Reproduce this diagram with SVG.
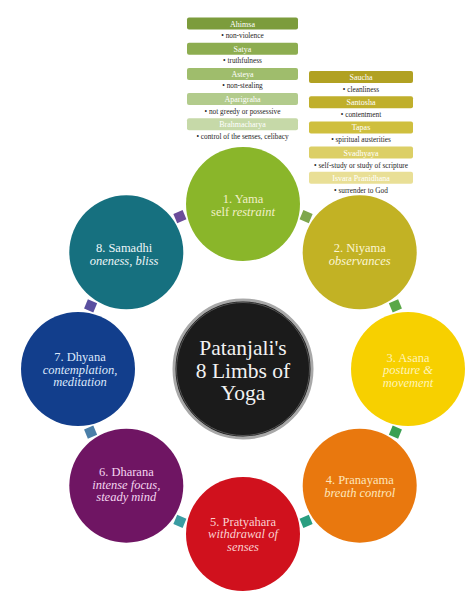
<svg xmlns="http://www.w3.org/2000/svg" width="474" height="597" viewBox="0 0 474 597">
<style>
.bar{stroke:none}
.bl{font-family:"Liberation Serif",serif;font-size:8px;fill:#ffffff;text-anchor:middle}
.bt{font-family:"Liberation Serif",serif;font-size:7.3px;fill:#1e1e1e;text-anchor:middle}
.ct{font-family:"Liberation Serif",serif;font-size:12.5px;text-anchor:middle}
.it{font-style:italic}
.mid{font-family:"Liberation Serif",serif;font-size:21.5px;fill:#f2f2f2;text-anchor:middle}
.sq{stroke:none}
</style>
<rect width="474" height="597" fill="#ffffff"/>

<g id="yama-list">
<rect class="bar" x="187" y="17.5" width="111" height="12" rx="2" fill="#7c9c3c"/>
<text class="bl" x="242.5" y="26.5">Ahimsa</text>
<text class="bt" x="242.5" y="38">• non-violence</text>
<rect class="bar" x="187" y="42.7" width="111" height="12" rx="2" fill="#8dad50"/>
<text class="bl" x="242.5" y="51.7">Satya</text>
<text class="bt" x="242.5" y="63.2">• truthfulness</text>
<rect class="bar" x="187" y="67.9" width="111" height="12" rx="2" fill="#9fbd6c"/>
<text class="bl" x="242.5" y="76.9">Asteya</text>
<text class="bt" x="242.5" y="88.4">• non-stealing</text>
<rect class="bar" x="187" y="93.1" width="111" height="12" rx="2" fill="#b2cb8c"/>
<text class="bl" x="242.5" y="102.1">Aparigraha</text>
<text class="bt" x="242.5" y="113.6">• not greedy or possessive</text>
<rect class="bar" x="187" y="118.3" width="111" height="12" rx="2" fill="#c6d9a8"/>
<text class="bl" x="242.5" y="127.3">Brahmacharya</text>
<text class="bt" x="242.5" y="138.8">• control of the senses, celibacy</text>
</g>

<g id="niyama-list">
<rect class="bar" x="309" y="71" width="104" height="12" rx="2" fill="#b1a122"/>
<text class="bl" x="361" y="80">Saucha</text>
<text class="bt" x="361" y="92">• cleanliness</text>
<rect class="bar" x="309" y="96.2" width="104" height="12" rx="2" fill="#c0af2c"/>
<text class="bl" x="361" y="105.2">Santosha</text>
<text class="bt" x="361" y="117.2">• contentment</text>
<rect class="bar" x="309" y="121.4" width="104" height="12" rx="2" fill="#cfbf3e"/>
<text class="bl" x="361" y="130.4">Tapas</text>
<text class="bt" x="361" y="142.4">• spiritual austerities</text>
<rect class="bar" x="309" y="146.6" width="104" height="12" rx="2" fill="#dccf66"/>
<text class="bl" x="361" y="155.6">Svadhyaya</text>
<text class="bt" x="361" y="167.6">• self-study or study of scripture</text>
<rect class="bar" x="309" y="171.8" width="104" height="12" rx="2" fill="#e9df96"/>
<text class="bl" x="361" y="180.8">Isvara Pranidhana</text>
<text class="bt" x="361" y="192.8">• surrender to God</text>
</g>

<g id="connectors">
<rect class="sq" x="-5" y="-5" width="10" height="10" fill="#7ea64c" transform="translate(306.1,216.6) rotate(22.5)"/>
<rect class="sq" x="-5" y="-5" width="10" height="10" fill="#5aa848" transform="translate(395.4,305.9) rotate(67.5)"/>
<rect class="sq" x="-5" y="-5" width="10" height="10" fill="#3aa052" transform="translate(395.4,432.1) rotate(112.5)"/>
<rect class="sq" x="-5" y="-5" width="10" height="10" fill="#2a9e80" transform="translate(306.1,521.4) rotate(157.5)"/>
<rect class="sq" x="-5" y="-5" width="10" height="10" fill="#3a9ca2" transform="translate(179.9,521.4) rotate(202.5)"/>
<rect class="sq" x="-5" y="-5" width="10" height="10" fill="#4a7ea8" transform="translate(90.6,432.1) rotate(247.5)"/>
<rect class="sq" x="-5" y="-5" width="10" height="10" fill="#5a50a0" transform="translate(90.6,305.9) rotate(292.5)"/>
<rect class="sq" x="-5" y="-5" width="10" height="10" fill="#6b4c9a" transform="translate(179.9,216.6) rotate(337.5)"/>
</g>

<g id="yama">
<circle cx="243" cy="204" r="57" fill="#8ab62a"/>
<text class="ct" x="243" y="203" fill="#f2f0c8">1. Yama</text>
<text class="ct" x="243" y="215.5" fill="#f2f0c8">self <tspan class="it">restraint</tspan></text>
</g>
<g id="niyama">
<circle cx="359.7" cy="252.3" r="57" fill="#c2b224"/>
<text class="ct" x="359.7" y="252" fill="#fcf6d4">2. Niyama</text>
<text class="ct it" x="359.7" y="264.5" fill="#fcf6d4">observances</text>
</g>
<g id="asana">
<circle cx="408" cy="369" r="57" fill="#f7d000"/>
<text class="ct" x="408" y="361.5" fill="#fff4b8">3. Asana</text>
<text class="ct it" x="408" y="374" fill="#fff4b8">posture &amp;</text>
<text class="ct it" x="408" y="386.5" fill="#fff4b8">movement</text>
</g>
<g id="pranayama">
<circle cx="359.7" cy="485.7" r="57" fill="#e9780e"/>
<text class="ct" x="359.7" y="484" fill="#fde6bc">4. Pranayama</text>
<text class="ct it" x="359.7" y="496.5" fill="#fde6bc">breath control</text>
</g>
<g id="pratyahara">
<circle cx="243" cy="534" r="57" fill="#d0111d"/>
<text class="ct" x="243" y="525.5" fill="#fad0d0">5. Pratyahara</text>
<text class="ct it" x="243" y="538" fill="#fad0d0">withdrawal of</text>
<text class="ct it" x="243" y="550.5" fill="#fad0d0">senses</text>
</g>
<g id="dharana">
<circle cx="126.3" cy="485.7" r="57" fill="#6f1563"/>
<text class="ct" x="126.3" y="476" fill="#f4d6f0">6. Dharana</text>
<text class="ct it" x="126.3" y="488.5" fill="#f4d6f0">intense focus,</text>
<text class="ct it" x="126.3" y="501" fill="#f4d6f0">steady mind</text>
</g>
<g id="dhyana">
<circle cx="78" cy="369" r="57" fill="#123e8c"/>
<text class="ct" x="80" y="361" fill="#dce8fb">7. Dhyana</text>
<text class="ct it" x="80" y="373.5" fill="#dce8fb">contemplation,</text>
<text class="ct it" x="80" y="386" fill="#dce8fb">meditation</text>
</g>
<g id="samadhi">
<circle cx="126.3" cy="252.3" r="57" fill="#16707f"/>
<text class="ct" x="124" y="252" fill="#eef6f8">8. Samadhi</text>
<text class="ct it" x="124" y="264.5" fill="#eef6f8">oneness, bliss</text>
</g>

<g id="center">
<circle cx="243" cy="369" r="69" fill="#1b1b1b" stroke="#a8a8a8" stroke-width="3"/>
<circle cx="243" cy="369" r="66.5" fill="none" stroke="#555" stroke-width="1"/>
<text class="mid" x="243" y="355">Patanjali's</text>
<text class="mid" x="243" y="377.5">8 Limbs of</text>
<text class="mid" x="243" y="400">Yoga</text>
</g>
</svg>
